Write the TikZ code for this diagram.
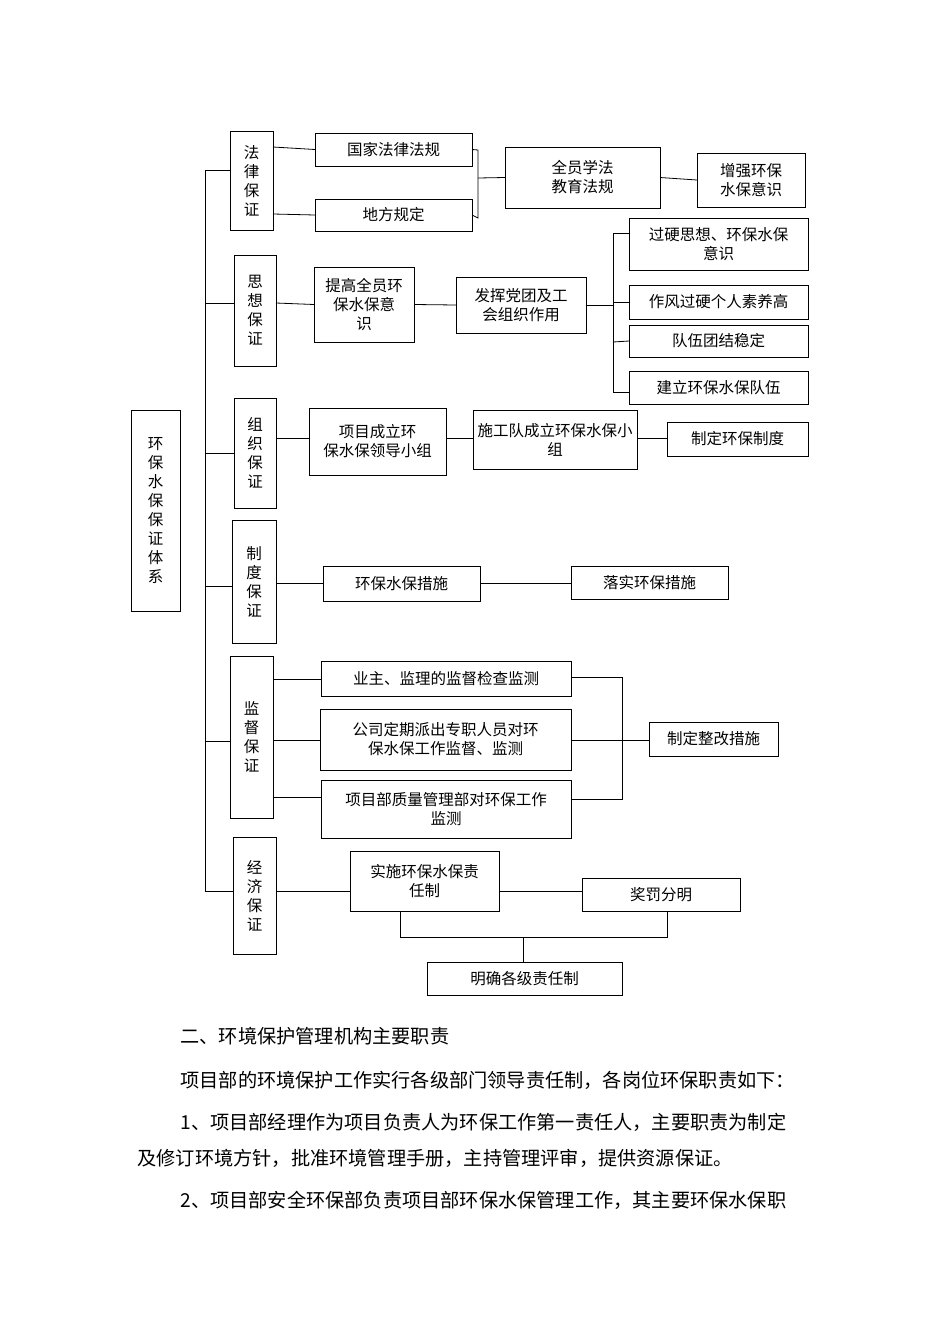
\documentclass[tikz,border=0pt]{standalone}
\usepackage{fontspec}
\setmainfont{Noto Sans CJK SC}
\begin{document}
\begin{tikzpicture}[x=1pt,y=-1pt,line width=0.8pt,
  bx/.style={draw,inner sep=0pt},
  t/.style={font=\fontsize{15.5}{19}\selectfont,align=center},
  p/.style={font=\fontsize{19.2}{22}\selectfont,anchor=west,inner sep=0pt}]
\useasboundingbox (0,0) rectangle (950,1344);
\newcommand\bx[6]{\draw (#2,#3) rectangle (#4,#5); \node[t] (#1) at ({(#2+#4)/2},{(#3+#5)/2}) {#6};
 \coordinate (#1w) at (#2,{(#3+#5)/2}); \coordinate (#1e) at (#4,{(#3+#5)/2});}
\bx{root}{131}{410}{180}{611}{环\\保\\水\\保\\保\\证\\体\\系}
\bx{fl}{230}{131}{273}{230}{法\\律\\保\\证}
\bx{sx}{234}{255}{276}{366}{思\\想\\保\\证}
\bx{zz}{234}{398}{276}{508}{组\\织\\保\\证}
\bx{zd}{232}{520}{276}{643}{制\\度\\保\\证}
\bx{jd}{230}{656}{273}{818}{监\\督\\保\\证}
\bx{jj}{233}{837}{276}{954}{经\\济\\保\\证}
% trunk
\draw (205,170) -- (205,891);
\draw (205,170) -- (230,170);
\draw (205,303) -- (234,303);
\draw (205,453) -- (234,453);
\draw (205,586) -- (232,586);
\draw (205,741) -- (230,741);
\draw (205,891) -- (233,891);
% law
\bx{gj}{315}{133}{472}{166}{国家法律法规}
\bx{df}{315}{199}{472}{231}{地方规定}
\bx{qy}{505}{147}{660}{208}{全员学法\\教育法规}
\bx{zq}{697}{153}{805}{207}{增强环保\\水保意识}
\draw (273,147) -- (gjw); \draw (273,214) -- (dfw);
\draw (gje) -- (478,150) -- (478,218) -- (dfe);
\draw (478,178) -- (qyw); \draw (qye) -- (zqw);
% thought
\bx{tg}{314}{267}{414}{342}{提高全员环\\保水保意\\识}
\bx{fh}{456}{277}{586}{333}{发挥党团及工\\会组织作用}
\bx{a1}{629}{218}{808}{270}{过硬思想、环保水保\\意识}
\bx{a2}{629}{285}{808}{319}{作风过硬个人素养高}
\bx{a3}{629}{325}{808}{357}{队伍团结稳定}
\bx{a4}{629}{371}{808}{404}{建立环保水保队伍}
\draw (276,303) -- (tgw); \draw (tge) -- (fhw);
\draw (fhe) -- (613,305); \draw (613,233) -- (613,392);
\draw (613,233) -- (629,233); \draw (613,302) -- (a2w); \draw (613,342) -- (a3w); \draw (613,392) -- (629,392);
% org
\bx{xm}{309}{408}{446}{475}{项目成立环\\保水保领导小组}
\bx{sg}{473}{410}{637}{469}{施工队成立环保水保小\\组}
\bx{zdd}{667}{422}{808}{456}{制定环保制度}
\draw (276,438) -- (309,438); \draw (446,438) -- (473,438); \draw (637,438) -- (667,438);
% system
\bx{cs}{323}{566}{480}{601}{环保水保措施}
\bx{ls}{571}{566}{728}{599}{落实环保措施}
\draw (276,583) -- (323,583); \draw (480,583) -- (571,583);
% supervision
\bx{yz}{321}{661}{571}{696}{业主、监理的监督检查监测}
\bx{gs}{320}{709}{571}{770}{公司定期派出专职人员对环\\保水保工作监督、监测}
\bx{xmb}{321}{780}{571}{838}{项目部质量管理部对环保工作\\监测}
\bx{zg}{649}{722}{778}{756}{制定整改措施}
\draw (273,679) -- (321,679); \draw (273,740) -- (320,740); \draw (273,797) -- (321,797);
\draw (571,677) -- (622,677) -- (622,799) -- (571,799);
\draw (571,740) -- (649,740);
% economy
\bx{zr}{350}{851}{499}{911}{实施环保水保责\\任制}
\bx{jf}{582}{878}{740}{911}{奖罚分明}
\bx{mq}{427}{962}{622}{995}{明确各级责任制}
\draw (276,891) -- (350,891); \draw (499,891) -- (582,891);
\draw (400,911) -- (400,937) -- (667,937) -- (667,911);
\draw (523,937) -- (523,962);
% text
\node[p] (l1) at (180,1036) {二、环境保护管理机构主要职责};
\node[p] (l2) at (180,1080) {项目部的环境保护工作实行各级部门领导责任制，各岗位环保职责如下：};
\node[p] (l3) at (180,1122) {1、项目部经理作为项目负责人为环保工作第一责任人，主要职责为制定};
\node[p] (l4) at (137,1158) {及修订环境方针，批准环境管理手册，主持管理评审，提供资源保证。};
\node[p] (l5) at (180,1200) {2、项目部安全环保部负责项目部环保水保管理工作，其主要环保水保职};
\end{tikzpicture}
\end{document}
